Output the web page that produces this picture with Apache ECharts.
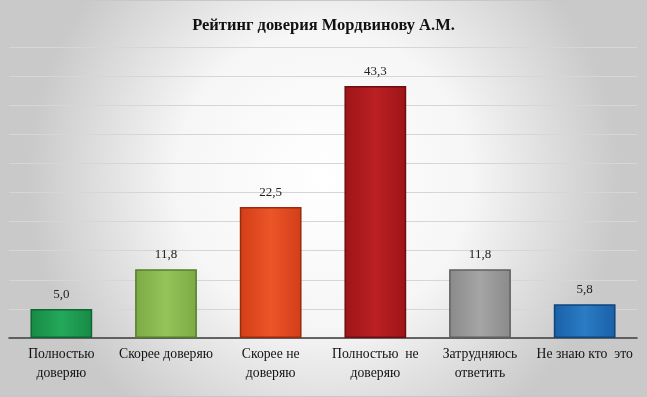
<!DOCTYPE html>
<html><head><meta charset="utf-8">
<script src="https://cdn.jsdelivr.net/npm/echarts@6/dist/echarts.min.js"></script>
<style>html,body{margin:0;padding:0;}#c{width:647px;height:397px;box-sizing:border-box;border:1px solid #c8c8c8;}</style>
</head><body><div id="c"></div>
<script>
const title = 'Рейтинг доверия Мордвинову А.М.';
const categories = ['Полностью\nдоверяю', 'Скорее доверяю', 'Скорее не\nдоверяю', 'Полностью  не\nдоверяю', 'Затрудняюсь\nответить', 'Не знаю кто  это'];
const values = [5.0, 11.8, 22.5, 43.3, 11.8, 5.8];
const fillColors = [['#24a85a', '#178a45'], ['#94c45a', '#7caa45'], ['#ec5528', '#d23e18'], ['#bb2024', '#9e1418'], ['#a5a5a5', '#8a8a8a'], ['#2a7cc4', '#1a60a8']];
const borderColors = ['#0f6534', '#557d2a', '#9a2a0c', '#6e0d10', '#5f5f5f', '#10447a'];

const chart = echarts.init(document.getElementById('c'), null, {renderer: 'canvas'});
chart.setOption({
  backgroundColor: {type: 'radial', x: 0.5, y: 0.45, r: 0.75, colorStops: [{offset: 0, color: '#ffffff'}, {offset: 0.5, color: '#f6f6f6'}, {offset: 1, color: '#c9c9c9'}]},
  title: {text: title, left: 'center', top: 11, textStyle: {fontFamily: 'Liberation Serif', fontWeight: 'bold', fontSize: 16.5, color: '#111'}},
  grid: {left: 8, right: 9, top: 46, bottom: 58},
  xAxis: {type: 'category', data: categories,
    axisLine: {lineStyle: {color: '#3a3a3a', width: 1.5}}, axisTick: {show: false},
    axisLabel: {interval: 0, fontFamily: 'Liberation Serif', fontSize: 13.7, color: '#111', lineHeight: 19, margin: 7}},
  yAxis: {type: 'value', min: 0, max: 50, interval: 5, axisLabel: {show: false}, axisLine: {show: false}, axisTick: {show: false},
    splitLine: {lineStyle: {color: '#d6d6d6', width: 1}}},
  series: [{type: 'bar', barWidth: '59%',
    data: values.map((v, i) => ({value: v, itemStyle: {
      color: {type: 'linear', x: 0, y: 0, x2: 1, y2: 0, colorStops: [{offset: 0, color: fillColors[i][1]}, {offset: 0.5, color: fillColors[i][0]}, {offset: 1, color: fillColors[i][1]}]},
      borderColor: borderColors[i], borderWidth: 1.5}})),
    label: {show: true, position: 'top', distance: 8, fontFamily: 'Liberation Serif', fontSize: 13, color: '#222',
      formatter: p => p.value.toFixed(1).replace('.', ',')}
  }]
});
</script></body></html>
